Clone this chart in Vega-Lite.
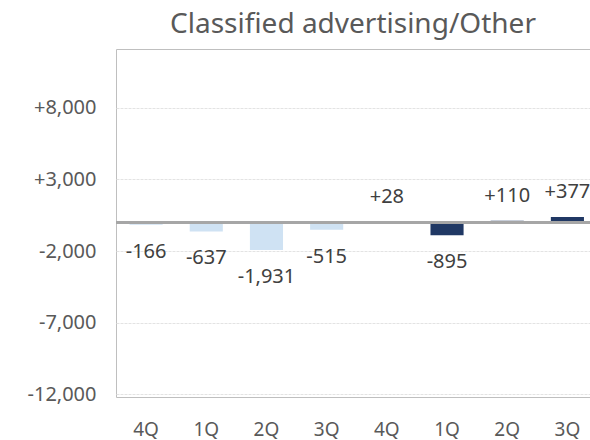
{
  "$schema": "https://vega.github.io/schema/vega-lite/v6.json",
  "width": 474,
  "height": 348,
  "autosize": {"type": "none"},
  "padding": {"left": 116, "top": 49, "right": 0, "bottom": 43},
  "background": "white",
  "title": {
    "text": "Classified advertising/Other",
    "font": "Noto Sans",
    "fontSize": 28,
    "fontWeight": "normal",
    "color": "#595959",
    "limit": 0,
    "anchor": "middle",
    "offset": 10
  },
  "config": {
    "view": {"stroke": "#bfbfbf", "strokeWidth": 1},
    "font": "Noto Sans",
    "text": {"font": "Noto Sans"}
  },
  "data": {
    "values": [
      {"period": "A-4Q", "series": "prev", "value": -166, "label": "-166"},
      {"period": "B-1Q", "series": "prev", "value": -637, "label": "-637"},
      {"period": "C-2Q", "series": "prev", "value": -1931, "label": "-1,931"},
      {"period": "D-3Q", "series": "prev", "value": -515, "label": "-515"},
      {"period": "E-4Q", "series": "curr", "value": 28, "label": "+28"},
      {"period": "F-1Q", "series": "curr", "value": -895, "label": "-895"},
      {"period": "G-2Q", "series": "curr", "value": 110, "label": "+110"},
      {"period": "H-3Q", "series": "curr", "value": 377, "label": "+377"}
    ]
  },
  "layer": [
    {
      "mark": {"type": "bar"},
      "encoding": {
        "x": {
          "field": "period",
          "type": "nominal",
          "sort": null,
          "scale": {"range": [0, 481.5], "paddingInner": 0.45, "paddingOuter": 0.225},
          "axis": {
            "title": null,
            "domain": false,
            "ticks": false,
            "grid": false,
            "labelAngle": 0,
            "labelFont": "Noto Sans",
            "labelFontSize": 19,
            "labelColor": "#595959",
            "labelPadding": 23,
            "labelBaseline": "top",
            "labelExpr": "substring(datum.label, 2)"
          }
        },
        "y": {
          "field": "value",
          "type": "quantitative",
          "scale": {"domain": [-12180, 12090], "nice": false, "zero": false},
          "axis": {
            "title": null,
            "values": [-12000, -7000, -2000, 3000, 8000],
            "domain": false,
            "ticks": false,
            "grid": true,
            "gridColor": "#e3e3e3",
            "gridDash": [3, 1],
            "gridWidth": 1,
            "labelFont": "Noto Sans",
            "labelFontSize": 20,
            "labelColor": "#595959",
            "labelPadding": 20,
            "labelExpr": "(datum.value > 0 ? '+' : (datum.value < 0 ? '-' : '')) + format(abs(datum.value), ',') + (datum.value > 0 ? '\u00a0' : '')"
          }
        },
        "color": {
          "field": "series",
          "type": "nominal",
          "scale": {"domain": ["prev", "curr"], "range": ["#cfe2f3", "#203864"]},
          "legend": null
        }
      }
    },
    {
      "mark": {"type": "rule", "color": "#a6a6a6", "strokeWidth": 2.5},
      "encoding": {"y": {"datum": 0, "type": "quantitative"}}
    },
    {
      "transform": [{"filter": "datum.value < 0"}],
      "mark": {"type": "text", "baseline": "middle", "align": "center", "dy": 27, "fontSize": 20, "color": "#404040"},
      "encoding": {
        "x": {"field": "period", "type": "nominal", "sort": null},
        "y": {"field": "value", "type": "quantitative"},
        "text": {"field": "label"}
      }
    },
    {
      "transform": [{"filter": "datum.value >= 0"}],
      "mark": {"type": "text", "baseline": "middle", "align": "center", "dy": -25, "fontSize": 20, "color": "#404040"},
      "encoding": {
        "x": {"field": "period", "type": "nominal", "sort": null},
        "y": {"field": "value", "type": "quantitative"},
        "text": {"field": "label"}
      }
    }
  ]
}
